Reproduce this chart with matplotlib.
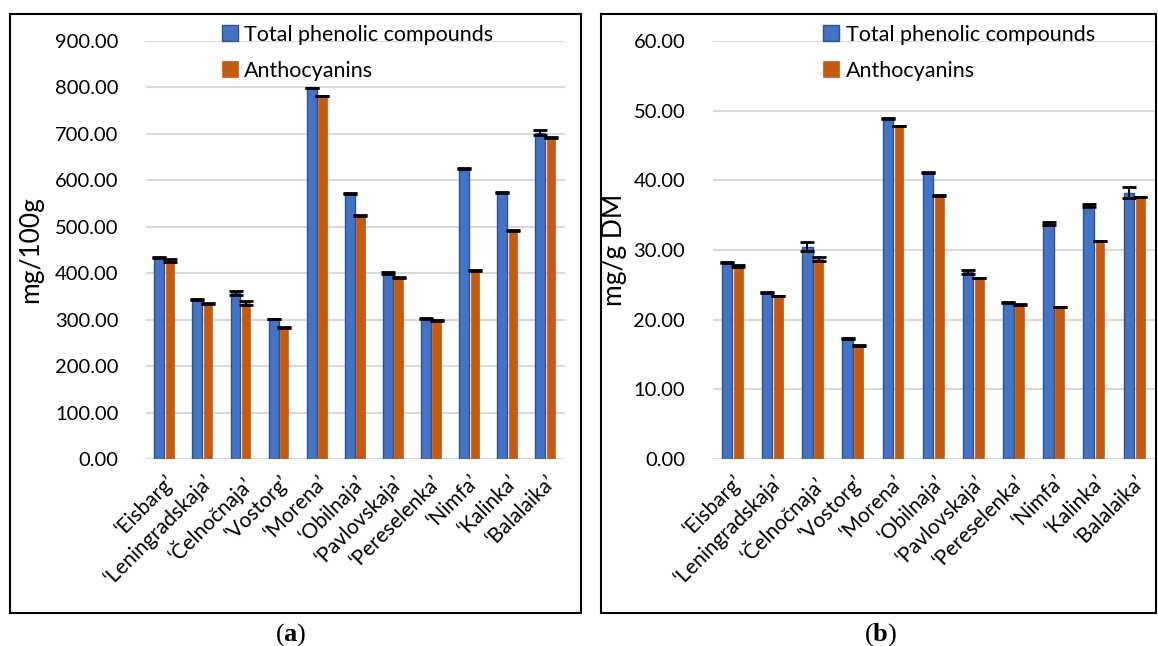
import matplotlib
matplotlib.use('Agg')
import matplotlib.pyplot as plt
from matplotlib.patches import Rectangle
import numpy as np

plt.rcParams['font.family'] = ['Lato', 'DejaVu Sans']
plt.rcParams['mathtext.fontset'] = 'custom'
plt.rcParams['mathtext.rm'] = 'Liberation Serif'
plt.rcParams['mathtext.bf'] = 'Liberation Serif:bold'

cultivars = ['‘Eisbarg’', '‘Leningradskaja’', '‘Čelnočnaja’', '‘Vostorg’', '‘Morena’',
             '‘Obilnaja’', '‘Pavlovskaja’', '‘Pereselenka’', '‘Nimfa’', '‘Kalinka’',
             '‘Balalaika’']

# (a) mg/100g
phenolics_fw = [434, 344, 357, 301, 799, 572, 401, 303, 625, 573, 703]
phenolics_fw_err = [1, 1, 4, 0.5, 0.5, 1, 2, 1, 1, 1, 6]
anthocyanins_fw = [427, 335, 336, 283, 782, 525, 390, 298, 405, 491, 692]
anthocyanins_fw_err = [3, 1, 4, 0.5, 0.5, 1, 1, 1, 1, 1, 1]

# (b) mg/g DM
phenolics_dm = [28.2, 23.9, 30.5, 17.3, 48.9, 41.1, 26.8, 22.5, 33.8, 36.4, 38.2]
phenolics_dm_err = [0.05, 0.05, 0.7, 0.05, 0.05, 0.05, 0.3, 0.1, 0.15, 0.2, 0.8]
anthocyanins_dm = [27.7, 23.4, 28.7, 16.3, 47.8, 37.8, 26.0, 22.2, 21.8, 31.3, 37.6]
anthocyanins_dm_err = [0.15, 0.05, 0.35, 0.05, 0.05, 0.05, 0.05, 0.05, 0.05, 0.05, 0.05]

BLUE = '#4472c4'
ORANGE = '#c55a11'


def draw_panel(ax, phen, phen_err, anth, anth_err, ymax, ystep, ylabel):
    x = np.arange(len(cultivars))
    err_kw = dict(ecolor='black', elinewidth=1.5, capsize=5, capthick=2)
    ax.bar(x - 0.15, phen, 0.26, yerr=phen_err, color=BLUE, edgecolor='#2f528f',
           linewidth=1, label='Total phenolic compounds', error_kw=err_kw, zorder=3)
    ax.bar(x + 0.13, anth, 0.22, yerr=anth_err, color=ORANGE, edgecolor=ORANGE,
           linewidth=0.5, label='Anthocyanins', error_kw=err_kw, zorder=3)
    ax.set_xlim(-0.5, len(cultivars) - 0.5)
    ax.set_ylim(0, ymax)
    ticks = np.arange(0, ymax + ystep / 2, ystep)
    ax.set_yticks(ticks)
    ax.set_yticklabels(['%.2f' % v for v in ticks])
    ax.yaxis.grid(True, color='#d9d9d9', linewidth=1.5, zorder=0)
    ax.set_axisbelow(True)
    for s in ax.spines.values():
        s.set_visible(False)
    ax.tick_params(length=0, labelsize=14.5, pad=20)
    ax.set_xticks(x)
    ax.set_xticklabels(cultivars, rotation=45, ha='right', rotation_mode='anchor',
                       fontsize=15)
    ax.tick_params(axis='x', pad=9)
    ax.set_ylabel(ylabel, fontsize=19)
    ax.legend(loc='upper left', frameon=False, fontsize=15.5, handlelength=0.75,
              handleheight=0.75, handletextpad=0.3, labelspacing=0.75,
              bbox_to_anchor=(0.16, 1.06), borderaxespad=0)


fig = plt.figure(figsize=(11.58, 6.46), dpi=100)
ax_a = fig.add_axes([0.1261, 0.2895, 0.3618, 0.647])
ax_b = fig.add_axes([0.6157, 0.2895, 0.3817, 0.647])

draw_panel(ax_a, phenolics_fw, phenolics_fw_err, anthocyanins_fw, anthocyanins_fw_err,
           900, 100, 'mg/100g')
draw_panel(ax_b, phenolics_dm, phenolics_dm_err, anthocyanins_dm, anthocyanins_dm_err,
           60, 10, 'mg/g DM')
ax_a.yaxis.set_label_coords(-0.245, 0.5)
ax_b.yaxis.set_label_coords(-0.195, 0.5)
ax_b.legend_.set_bbox_to_anchor((0.23, 1.06))

# panel frames
fig.patches.append(Rectangle((0.0086, 0.0511), 0.4931, 0.9272, fill=False,
                             lw=1.5, ec='black', transform=fig.transFigure))
fig.patches.append(Rectangle((0.519, 0.0511), 0.4795, 0.9272, fill=False,
                             lw=1.5, ec='black', transform=fig.transFigure))

fig.text(0.251, 0.009, r'($\mathbf{a}$)', ha='center', fontsize=19,
         family='Liberation Serif')
fig.text(0.76, 0.009, r'($\mathbf{b}$)', ha='center', fontsize=19,
         family='Liberation Serif')

fig.savefig('out.png', dpi=100)
